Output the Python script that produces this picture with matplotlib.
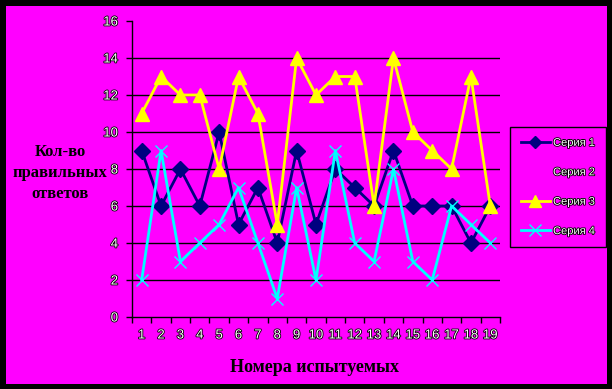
import matplotlib
matplotlib.use('Agg')
import matplotlib.pyplot as plt
import matplotlib.patheffects as pe
from matplotlib.patches import Rectangle
from matplotlib.lines import Line2D

# data
subjects = list(range(1, 20))
series1 = [9, 6, 8, 6, 10, 5, 7, 4, 9, 5, 8, 7, 6, 9, 6, 6, 6, 4, 6]
series3 = [11, 13, 12, 12, 8, 13, 11, 5, 14, 12, 13, 13, 6, 14, 10, 9, 8, 13, 6]
series4 = [2, 9, 3, 4, 5, 7, 4, 1, 7, 2, 9, 4, 3, 8, 3, 2, 6, 5, 4]
series_names = ['Серия 1', 'Серия 2', 'Серия 3', 'Серия 4']
y_ticks = [0, 2, 4, 6, 8, 10, 12, 14, 16]

MAGENTA = '#FF00FF'
NAVY = '#000080'
YELLOW = '#FFFF00'
CYAN = '#00FFFF'

outline = [pe.withStroke(linewidth=1.2, foreground='black')]

W, H = 612, 389
fig = plt.figure(figsize=(W / 100, H / 100), dpi=100, facecolor='black')

# black frame with the magenta chart area inside
bg = fig.add_axes([0, 0, 1, 1], zorder=-5)
bg.set_xlim(0, W)
bg.set_ylim(H, 0)
bg.axis('off')
bg.add_patch(Rectangle((6, 6), 601, 378, facecolor=MAGENTA, edgecolor='none'))

ax = fig.add_axes([132 / W, 1 - 317 / H, 368 / W, 296 / H])
ax.set_facecolor(MAGENTA)

ax.plot(subjects, series1, color=NAVY, lw=2, marker='D', ms=8,
        mfc=NAVY, mec=NAVY, zorder=3)
ax.plot(subjects, series3, color=YELLOW, lw=2, marker='^', ms=10,
        mfc=YELLOW, mec=YELLOW, zorder=4)
ax.plot(subjects, series4, color=CYAN, lw=2, marker='x', ms=9, mew=1,
        mec=CYAN, zorder=5)

ax.set_xlim(0.5, 19.5)
ax.set_ylim(0, 16)
ax.set_yticks(y_ticks)
ax.set_xticks(subjects)
ax.set_xticks([s - 0.5 for s in subjects] + [19.5], minor=True)
ax.tick_params(axis='x', which='major', length=0, pad=9)
ax.tick_params(axis='x', which='minor', length=4, width=1, color='black', direction='out')
ax.tick_params(axis='y', length=4, width=1, color='black', direction='out', pad=6)
for lab in ax.get_xticklabels() + ax.get_yticklabels():
    lab.set_color('white')
    lab.set_fontsize(9.5)
    lab.set_fontfamily('Liberation Sans')
    lab.set_path_effects(outline)

for v in y_ticks[1:-1]:
    ax.axhline(v, color='black', lw=1, zorder=1)

for side in ['top', 'right']:
    ax.spines[side].set_visible(False)
for side in ['left', 'bottom']:
    ax.spines[side].set_color('black')
    ax.spines[side].set_linewidth(1)

fig.text(60 / W, 1 - 173 / H, 'Кол-во\nправильных\nответов', ha='center', va='center',
         fontsize=12, fontweight='bold', family='Liberation Serif',
         color='black', linespacing=1.4)
fig.text(315 / W, 1 - 368 / H, 'Номера испытуемых', ha='center', va='center',
         fontsize=13, fontweight='bold', family='Liberation Serif', color='black')

handles = [
    Line2D([], [], color=NAVY, lw=2, marker='D', ms=6, mfc=NAVY, mec=NAVY),
    Line2D([], [], color='none', lw=0),
    Line2D([], [], color=YELLOW, lw=2, marker='^', ms=8, mfc=YELLOW, mec=YELLOW),
    Line2D([], [], color=CYAN, lw=2, marker='x', ms=8, mec=CYAN),
]
leg = fig.legend(handles, series_names, loc='center',
                 bbox_to_anchor=(558 / W, 1 - 187 / H), frameon=True,
                 fancybox=False, edgecolor='black', facecolor=MAGENTA,
                 framealpha=1, prop={'family': 'Liberation Sans', 'size': 8},
                 handlelength=2.6, labelspacing=1.75, borderpad=1.0,
                 handletextpad=0.3, borderaxespad=0)
leg.get_frame().set_linewidth(1)
for t in leg.get_texts():
    t.set_color('white')
    t.set_path_effects(outline)

fig.savefig('out.png', dpi=100, facecolor='black')
